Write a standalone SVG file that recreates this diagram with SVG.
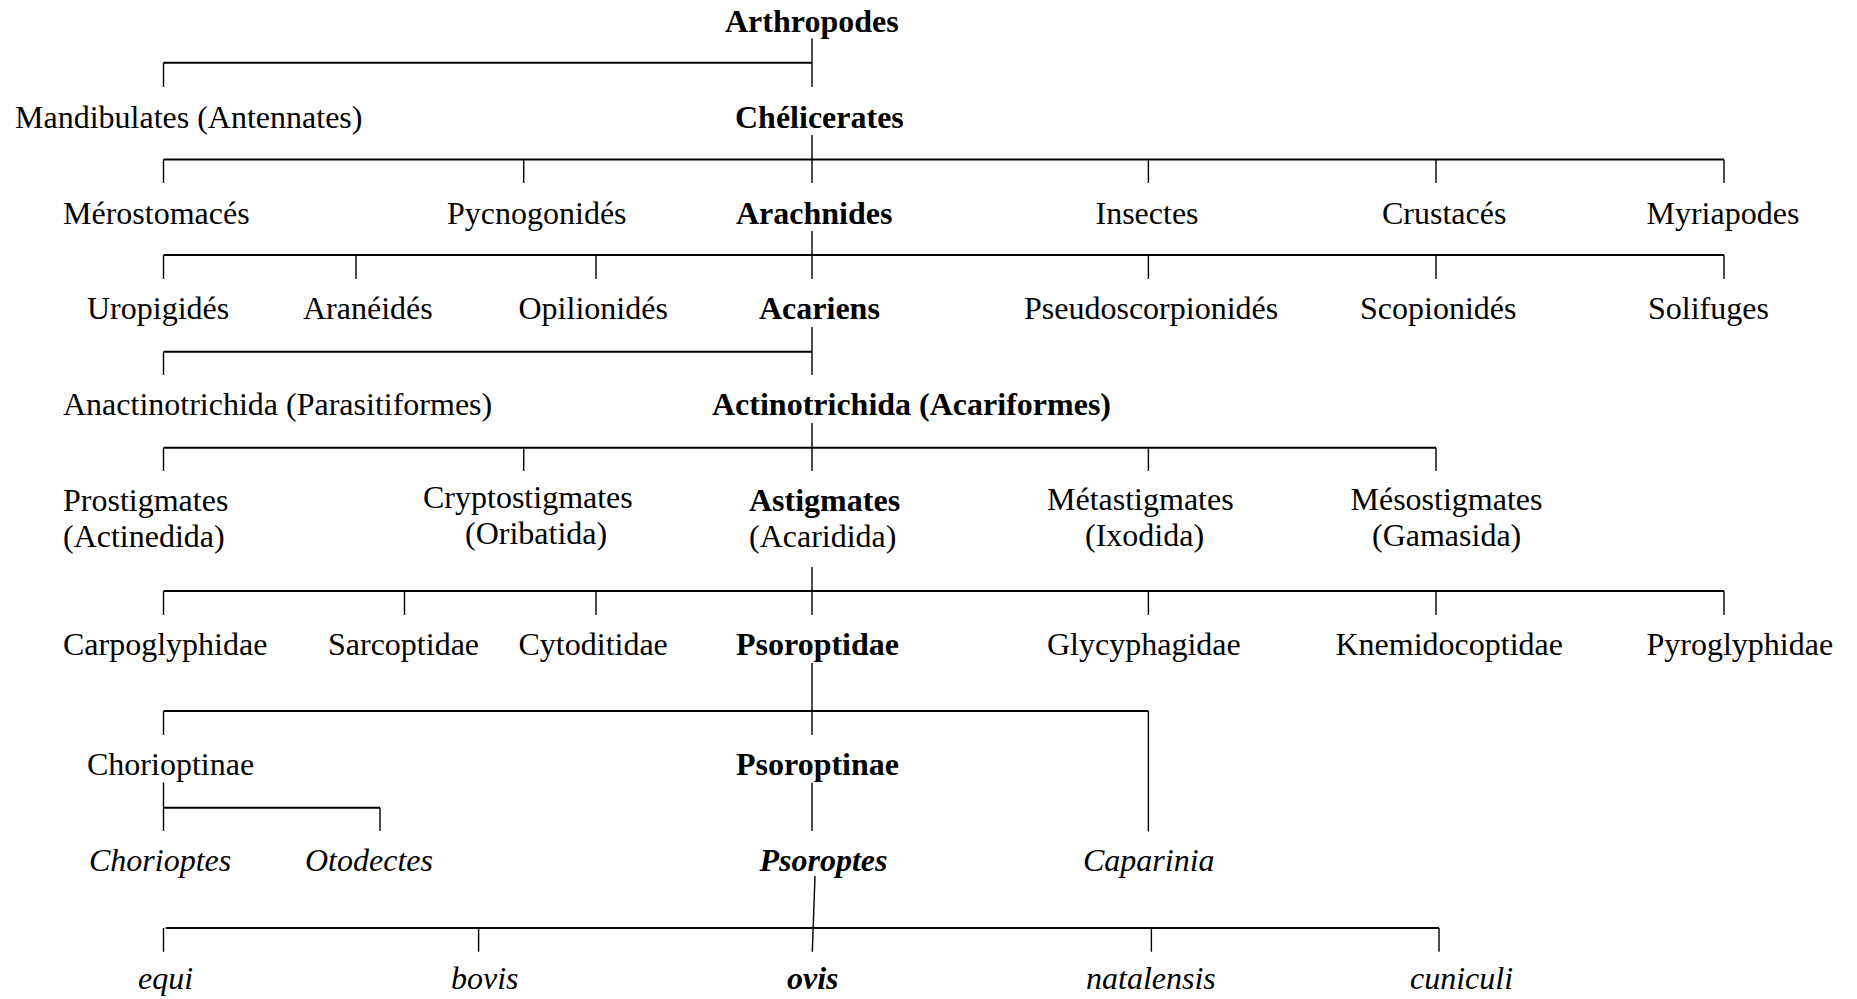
<svg xmlns="http://www.w3.org/2000/svg" width="1857" height="999" viewBox="0 0 1857 999">
  <style>
    text { font-family: "Liberation Serif", "Times New Roman", serif; font-size: 32px; fill: #000; }
    .b { font-weight: bold; }
    .i { font-style: italic; }
    .bi { font-weight: bold; font-style: italic; }
    .v { stroke: #000; stroke-width: 1.4; fill: none; }
    .h { stroke: #000; stroke-width: 2; fill: none; }
  </style>
  <rect width="1857" height="999" fill="#fff"/>

  <!-- connectors -->
  <g id="connectors">
    <!-- Arthropodes -->
    <path class="v" d="M812 38.5V87M163.5 62.7V87"/>
    <path class="h" d="M163.5 62.7H812"/>
    <!-- Chélicerates -->
    <path class="v" d="M812 135V183M163.5 159.5V183M523.7 159.5V183M1148.4 159.5V183M1436 159.5V183M1724 159.5V183"/>
    <path class="h" d="M163.5 159.5H1724"/>
    <!-- Arachnides -->
    <path class="v" d="M812 231V279M163.5 255V279M356 255V279M596 255V279M1148.4 255V279M1436 255V279M1724 255V279"/>
    <path class="h" d="M163.5 255H1724"/>
    <!-- Acariens -->
    <path class="v" d="M812 327V375M163.5 351.7V375"/>
    <path class="h" d="M163.5 351.7H812"/>
    <!-- Actinotrichida -->
    <path class="v" d="M812 423V471M163.5 447.7V471M523.7 447.7V471M1148.4 447.7V471M1436 447.7V471"/>
    <path class="h" d="M163.5 447.7H1436"/>
    <!-- Astigmates -->
    <path class="v" d="M812 567V615M163.5 591V615M404.5 591V615M596 591V615M1148.4 591V615M1436 591V615M1724 591V615"/>
    <path class="h" d="M163.5 591H1724"/>
    <!-- Psoroptidae -->
    <path class="v" d="M812 663V735M163.5 711V735M1148.4 711V831.5"/>
    <path class="h" d="M163.5 711H1148.4"/>
    <!-- Chorioptinae -->
    <path class="v" d="M163.5 782.5V831M380 807.7V831"/>
    <path class="h" d="M163.5 807.7H380"/>
    <!-- Psoroptinae -->
    <path class="v" d="M812 782.7V831"/>
    <!-- Psoroptes -->
    <path class="v" d="M815 876L812.3 951.7M163.5 928V951.7M478.6 928V951.7M1151.4 928V951.7M1439 928V951.7"/>
    <path class="h" d="M165.7 928H1439"/>
  </g>

  <!-- row 1 -->
  <g id="arthropodes"><text class="b" x="725" y="32">Arthropodes</text></g>
  <!-- row 2 -->
  <g id="mandibulates"><text x="15" y="128">Mandibulates (Antennates)</text></g>
  <g id="chelicerates"><text class="b" x="735" y="128">Chélicerates</text></g>
  <!-- row 3 -->
  <g id="merostomaces"><text x="63" y="223.5">Mérostomacés</text></g>
  <g id="pycnogonides"><text x="447" y="223.5">Pycnogonidés</text></g>
  <g id="arachnides"><text class="b" x="736" y="223.5">Arachnides</text></g>
  <g id="insectes"><text x="1095.5" y="223.5">Insectes</text></g>
  <g id="crustaces"><text x="1382" y="223.5">Crustacés</text></g>
  <g id="myriapodes"><text x="1646.5" y="223.5">Myriapodes</text></g>
  <!-- row 4 -->
  <g id="uropigides"><text x="87" y="319">Uropigidés</text></g>
  <g id="araneides"><text x="303" y="319">Aranéidés</text></g>
  <g id="opilionides"><text x="518.5" y="319">Opilionidés</text></g>
  <g id="acariens"><text class="b" x="759" y="319">Acariens</text></g>
  <g id="pseudoscorpionides"><text x="1024" y="319">Pseudoscorpionidés</text></g>
  <g id="scopionides"><text x="1360" y="319">Scopionidés</text></g>
  <g id="solifuges"><text x="1648" y="319">Solifuges</text></g>
  <!-- row 5 -->
  <g id="anactinotrichida"><text x="63" y="415">Anactinotrichida (Parasitiformes)</text></g>
  <g id="actinotrichida"><text class="b" x="712" y="415">Actinotrichida (Acariformes)</text></g>
  <!-- row 6 -->
  <g id="prostigmates"><text x="63" y="510.7">Prostigmates</text><text x="63" y="546.7">(Actinedida)</text></g>
  <g id="cryptostigmates"><text x="423" y="507.5">Cryptostigmates</text><text x="465" y="543.5">(Oribatida)</text></g>
  <g id="astigmates"><text class="b" x="749" y="510.7">Astigmates</text><text x="749" y="546.7">(Acaridida)</text></g>
  <g id="metastigmates"><text x="1047" y="510">Métastigmates</text><text x="1085" y="546">(Ixodida)</text></g>
  <g id="mesostigmates"><text x="1350.5" y="510">Mésostigmates</text><text x="1372" y="546">(Gamasida)</text></g>
  <!-- row 7 -->
  <g id="carpoglyphidae"><text x="63" y="655">Carpoglyphidae</text></g>
  <g id="sarcoptidae"><text x="328" y="655">Sarcoptidae</text></g>
  <g id="cytoditidae"><text x="518.5" y="655">Cytoditidae</text></g>
  <g id="psoroptidae"><text class="b" x="736" y="655">Psoroptidae</text></g>
  <g id="glycyphagidae"><text x="1047" y="655">Glycyphagidae</text></g>
  <g id="knemidocoptidae"><text x="1335.5" y="655">Knemidocoptidae</text></g>
  <g id="pyroglyphidae"><text x="1646.5" y="655">Pyroglyphidae</text></g>
  <!-- row 8 -->
  <g id="chorioptinae"><text x="87" y="774.5">Chorioptinae</text></g>
  <g id="psoroptinae"><text class="b" x="736" y="774.5">Psoroptinae</text></g>
  <!-- row 9 -->
  <g id="chorioptes"><text class="i" x="89" y="870.7">Chorioptes</text></g>
  <g id="otodectes"><text class="i" x="305" y="870.7">Otodectes</text></g>
  <g id="psoroptes"><text class="bi" x="759.5" y="870.7">Psoroptes</text></g>
  <g id="caparinia"><text class="i" x="1083" y="870.7">Caparinia</text></g>
  <!-- row 10 -->
  <g id="equi"><text class="i" x="138" y="989">equi</text></g>
  <g id="bovis"><text class="i" x="451" y="989">bovis</text></g>
  <g id="ovis"><text class="bi" x="787" y="989">ovis</text></g>
  <g id="natalensis"><text class="i" x="1086" y="989">natalensis</text></g>
  <g id="cuniculi"><text class="i" x="1410" y="989">cuniculi</text></g>
</svg>
